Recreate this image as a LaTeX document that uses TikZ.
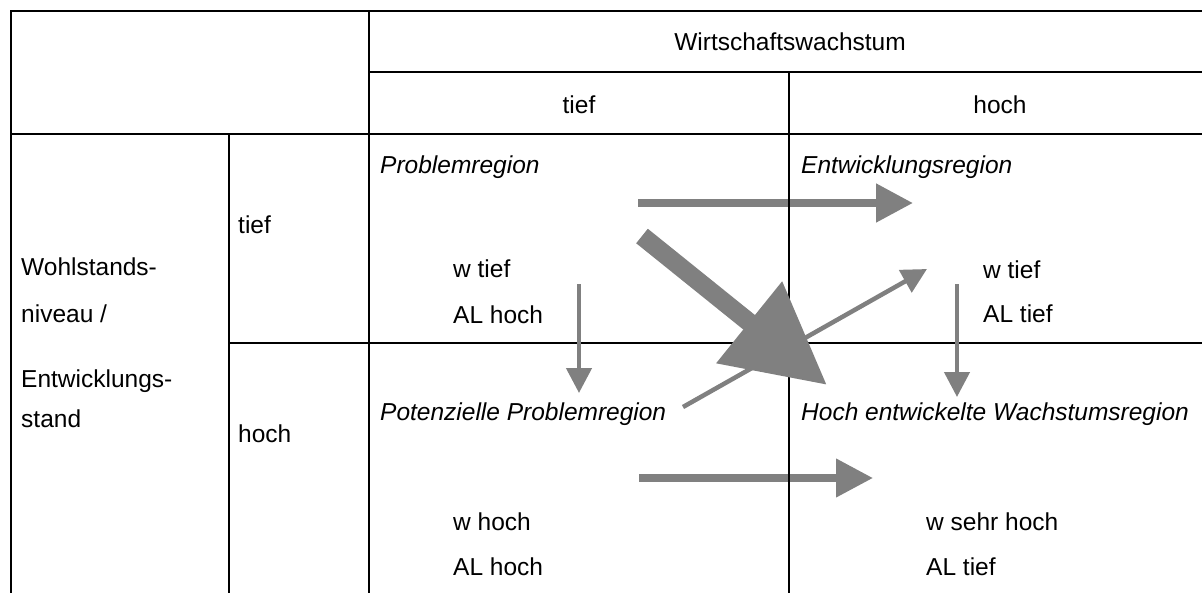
\documentclass[tikz,border=0pt]{standalone}
\usepackage{fontspec}
\setmainfont{Liberation Sans}
\usetikzlibrary{arrows.meta}
\definecolor{arrowgray}{HTML}{808080}
\begin{document}
\begin{tikzpicture}[x=1pt,y=-1pt,
  txt/.style={inner sep=0pt, anchor=base west, font=\fontsize{24.5}{29}\selectfont},
  ctxt/.style={inner sep=0pt, anchor=base, font=\fontsize{24.5}{29}\selectfont},
  itxt/.style={inner sep=0pt, anchor=base west, font=\fontsize{24.5}{29}\selectfont\itshape},
  gridline/.style={line width=2.8pt, black, line cap=rect},
  flowbig/.style={draw=arrowgray, line width=18.6pt, -{Triangle[length=100pt 0,width=100pt 0]}},
  flowmid/.style={draw=arrowgray, line width=8pt, -{Triangle[length=37pt 0,width=37pt 0]}},
  flowthin/.style={draw=arrowgray, line width=4.5pt, -{Triangle[length=25pt 0,width=25pt 0]}}]
\useasboundingbox (0,0) rectangle (1202,592);
\clip (0,0) rectangle (1202,592);
% coordinates for arrows
\coordinate (hts) at (638,203);
\coordinate (hte) at (913,203);
\coordinate (hbs) at (639,478);
\coordinate (hbe) at (873,478);
\coordinate (bgs) at (642,236);
\coordinate (bge) at (827,385);
\coordinate (dgs) at (683,407);
\coordinate (dge) at (927,269);
\coordinate (vls) at (579,284);
\coordinate (vle) at (579,393);
\coordinate (vrs) at (957,284);
\coordinate (vre) at (957,397);
% horizontal arrows (under grid)
\draw[flowmid] (hts) -- (hte);
\draw[flowmid, line width=7.5pt] (hbs) -- (hbe);
% grid
\draw[gridline] (11,600) -- (11,11) -- (1215,11);
\draw[gridline] (369,11) -- (369,600);
\draw[gridline] (369,72) -- (1215,72);
\draw[gridline] (11,134) -- (1215,134);
\draw[gridline] (229,134) -- (229,600);
\draw[gridline] (789,72) -- (789,600);
\draw[gridline] (229,343) -- (1215,343);
% other arrows
\draw[flowthin] (dgs) -- (dge);
\draw[flowbig] (bgs) -- (bge);
\draw[flowthin] (vls) -- (vle);
\draw[flowthin] (vrs) -- (vre);
% texts
\node[ctxt] (ww) at (790,50) {Wirtschaftswachstum};
\node[ctxt] (ht) at (579,113) {tief};
\node[ctxt] (hh) at (1000,113) {hoch};
\node[txt] (l1) at (21,275) {Wohlstands-};
\node[txt] (l2) at (21,322) {niveau /};
\node[txt] (l3) at (21,387) {Entwicklungs-};
\node[txt] (l4) at (21,427) {stand};
\node[txt] (rt) at (238,233) {tief};
\node[txt] (rh) at (238,442) {hoch};
\node[itxt] (pr) at (380,173) {Problemregion};
\node[itxt] (er) at (801,173) {Entwicklungsregion};
\node[itxt] (pp) at (380,420) {Potenzielle Problemregion};
\node[itxt] (hw) at (801,420) {Hoch entwickelte Wachstumsregion};
\node[txt] (a1) at (453,277) {w tief};
\node[txt] (a2) at (453,323) {AL hoch};
\node[txt] (b1) at (983,278) {w tief};
\node[txt] (b2) at (983,322) {AL tief};
\node[txt] (c1) at (453,530) {w hoch};
\node[txt] (c2) at (453,575) {AL hoch};
\node[txt] (d1) at (926,530) {w sehr hoch};
\node[txt] (d2) at (926,575) {AL tief};
\end{tikzpicture}
\end{document}
